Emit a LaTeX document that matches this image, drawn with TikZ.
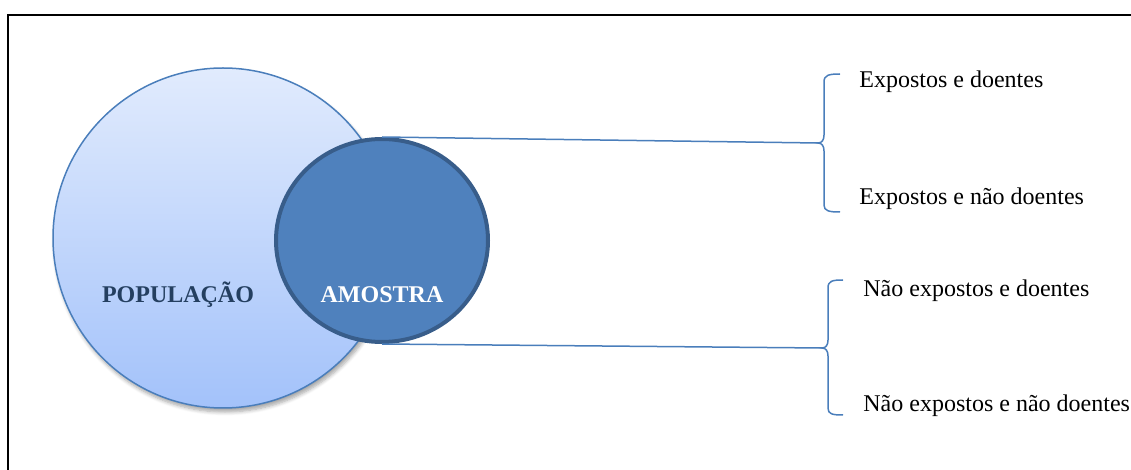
\documentclass[tikz,border=0pt]{standalone}
\usepackage{fontspec}
\setmainfont{Liberation Serif}
\usepackage{tikz}
\usetikzlibrary{shapes.geometric,shadows.blur}

\definecolor{popfill top}{HTML}{E1EBFD}
\definecolor{popfill bot}{HTML}{A3C2FA}
\definecolor{amofill}{HTML}{4F81BD}
\definecolor{amoline}{HTML}{385D8A}
\definecolor{linkblue}{HTML}{4A7EBB}
\definecolor{navy}{HTML}{243F60}

\tikzset{
  link/.style = {draw = linkblue, line width = 0.75pt},
  item/.style = {anchor = base west, inner sep = 0pt, font = \fontsize{12}{14}\selectfont}
}

\begin{document}
\begin{tikzpicture}[x = 0.5pt, y = -0.5pt]
\useasboundingbox (0,0) rectangle (1131,470);
\draw[line width = 1pt] (1140,15) -- (8,15) -- (8,480);

\node[circle, minimum size = 170pt, inner sep = 0pt, draw = linkblue, line width = 0.75pt,
      top color = popfill top, bottom color = popfill bot,
      blur shadow = {shadow xshift = 1pt, shadow yshift = -2pt, shadow blur steps = 6, shadow opacity = 35}]
      (pop) at (223,238) {};
\node[anchor = base, inner sep = 0pt, text = navy, font = \fontsize{12}{14}\selectfont\bfseries]
      (poplabel) at (178,303) {POPULAÇÃO};

% braces
\coordinate (b1) at (818,143);
\coordinate (b2) at (822,348);
\draw[link] (840,74) .. controls (829,74) and (824,75) .. (824,82) -- (824,135)
            .. controls (824,140) and (822,143) .. (b1)
            .. controls (822,143) and (824,146) .. (824,151) -- (824,205)
            .. controls (824,211) and (829,212) .. (840,212);
\draw[link] (843,280) .. controls (832,280) and (828,281) .. (828,288) -- (828,340)
            .. controls (828,345) and (826,348) .. (b2)
            .. controls (826,348) and (828,351) .. (828,356) -- (828,408)
            .. controls (828,414) and (832,415) .. (843,415);

\node[ellipse, minimum width = 106pt, minimum height = 101.5pt, inner sep = 0pt,
      fill = amofill, draw = amoline, line width = 2pt] (amo) at (382,240.5) {};
\draw[link] (amo.north) -- (b1);
\draw[link] (amo.south) -- (b2);
\node[anchor = base, inner sep = 0pt, text = white, font = \fontsize{12}{14}\selectfont\bfseries]
      (amolabel) at (382,303) {AMOSTRA};

\node[item] (ed) at (859,88) {Expostos e doentes};
\node[item] (end) at (859,205) {Expostos e não doentes};
\node[item] (ned) at (863,297) {Não expostos e doentes};
\node[item] (nend) at (863,412) {Não expostos e não doentes};
\end{tikzpicture}
\end{document}
